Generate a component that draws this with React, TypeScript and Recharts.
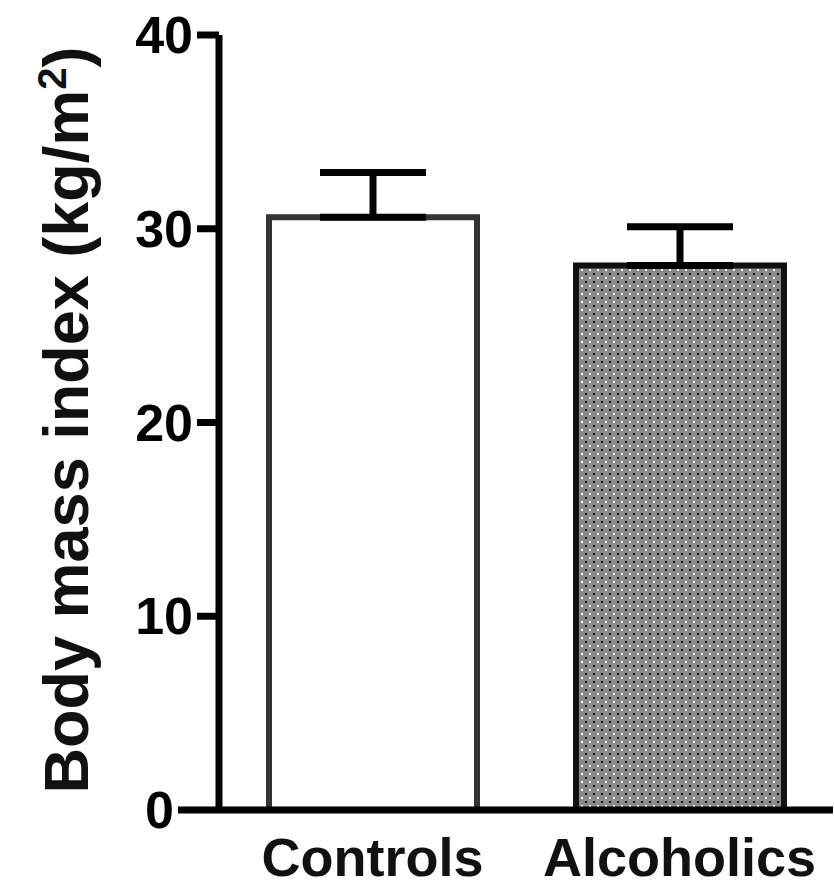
import { BarChart, Bar, XAxis, YAxis, ErrorBar, Cell } from "recharts";

const groups = ["Controls", "Alcoholics"];
const bmiMean = [30.6, 28.1];
const bmiSem = [2.3, 2.0];
const yTicks = [0, 10, 20, 30, 40];

const fills = ["#ffffff", "url(#dotFill)"];
const outlines = ["#333333", "#111111"];

const data = groups.map((g, i) => ({ group: g, bmi: bmiMean[i], err: [0, bmiSem[i]] }));

const AXIS_X = 219;
const FONT = "'Liberation Sans', Arial, sans-serif";

function YTick(props: any) {
  const { y, payload } = props;
  const zero = payload.value === 0;
  return (
    <g>
      <line x1={zero ? 178 : 197} y1={y} x2={AXIS_X} y2={y} stroke="#000" strokeWidth={7} />
      <text
        x={zero ? 174 : 193}
        y={y}
        textAnchor="end"
        dominantBaseline="central"
        fontFamily={FONT}
        fontWeight="bold"
        fontSize={52}
        fill="#000"
      >
        {payload.value}
      </text>
    </g>
  );
}

function XTick(props: any) {
  const { x, y, payload } = props;
  return (
    <text x={x} y={y + 58} textAnchor="middle" fontFamily={FONT} fontWeight="bold" fontSize={54} fill="#111">
      {payload.value}
    </text>
  );
}

function YLabel() {
  return (
    <text
      transform="translate(88, 420) rotate(-90)"
      textAnchor="middle"
      fontFamily={FONT}
      fontWeight="bold"
      fontSize={63}
      fill="#111"
    >
      Body mass index (kg/m
      <tspan dy={-22} fontSize={40}>2</tspan>
      <tspan dy={22}>)</tspan>
    </text>
  );
}

export default function App() {
  return (
    <div style={{ position: "absolute", left: 0, top: 0, width: 834, height: 892, background: "#fff" }}>
      <svg width={0} height={0} style={{ position: "absolute" }}>
        <defs>
          <pattern id="dotFill" width={8} height={8} patternUnits="userSpaceOnUse">
            <rect width={8} height={8} fill="#8a8a8a" />
            <rect x={1} y={1} width={2} height={2} fill="#111" />
            <rect x={5} y={5} width={2} height={2} fill="#f2f2f2" />
          </pattern>
        </defs>
      </svg>
      <BarChart width={834} height={892} data={data} margin={{ top: 35, right: 1, bottom: 0, left: 0 }} barSize={208}>
        <XAxis
          dataKey="group"
          height={82}
          tickLine={false}
          axisLine={{ stroke: "#000", strokeWidth: 7 }}
          tick={<XTick />}
        />
        <YAxis
          domain={[0, 40]}
          ticks={yTicks}
          width={AXIS_X}
          tickLine={false}
          axisLine={{ stroke: "#000", strokeWidth: 7 }}
          tick={<YTick />}
          label={<YLabel />}
        />
        <Bar dataKey="bmi" isAnimationActive={false} strokeWidth={6}>
          {data.map((d, i) => (
            <Cell key={d.group} fill={fills[i]} stroke={outlines[i]} />
          ))}
          <ErrorBar dataKey="err" width={53} stroke="#000" strokeWidth={7} direction="y" />
        </Bar>
      </BarChart>
    </div>
  );
}
